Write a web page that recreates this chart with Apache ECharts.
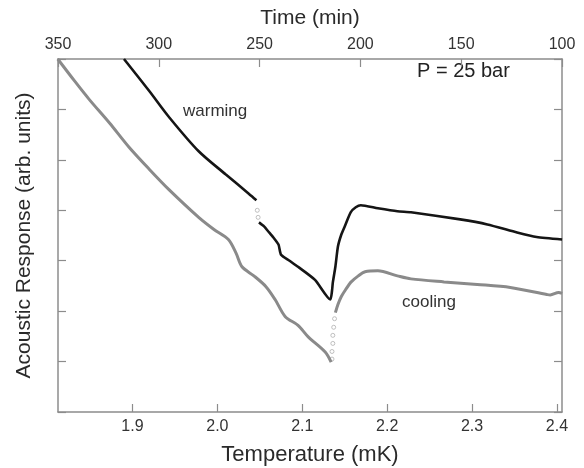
<!DOCTYPE html>
<html>
<head>
<meta charset="utf-8">
<script src="https://cdn.jsdelivr.net/npm/echarts@6/dist/echarts.min.js"></script>
<style>html,body{margin:0;padding:0;background:#fff}#c{width:584px;height:468px}</style>
</head>
<body>
<div id="c"></div>
<script>
// Temperature axis ticks (mK)
const tempTicks = [1.9, 2.0, 2.1, 2.2, 2.3, 2.4];
// Time axis ticks (min)
const timeTicks = [350, 300, 250, 200, 150, 100];

// Cooling curve (grey), before transition
const coolT1 = [1.812,1.832,1.849,1.873,1.896,1.920,1.943,1.978,1.996,2.013,2.022,2.029,2.043,2.057,2.068,2.080,2.095,2.107,2.127,2.134];
const coolV1 = [7.00,6.56,6.20,5.73,5.25,4.81,4.41,3.86,3.62,3.42,3.15,2.88,2.70,2.49,2.23,1.89,1.72,1.49,1.19,0.99];
// Cooling sparse points at transition
const coolDotT = [2.135,2.135,2.136,2.136,2.137,2.138];
const coolDotV = [1.05,1.20,1.36,1.52,1.68,1.85];
// Cooling curve after transition
const coolT2 = [2.139,2.142,2.146,2.152,2.157,2.166,2.174,2.189,2.212,2.228,2.267,2.306,2.345,2.388,2.392,2.402,2.406];
const coolV2 = [1.97,2.13,2.29,2.45,2.57,2.70,2.78,2.80,2.70,2.64,2.58,2.53,2.47,2.33,2.32,2.37,2.35];

// Warming curve (black)
const warmT1 = [1.890,1.920,1.943,1.978,2.010,2.037,2.046];
const warmV1 = [7.00,6.36,5.85,5.17,4.71,4.33,4.20];
const warmDotT = [2.047,2.048];
const warmDotV = [4.00,3.86];
const warmT2 = [2.049,2.055,2.060,2.066,2.072,2.075,2.085,2.095,2.115,2.133,2.135,2.136,2.139,2.142,2.146,2.150,2.157,2.163,2.169,2.189,2.212,2.228,2.286,2.318,2.353,2.376,2.406];
const warmV2 = [3.76,3.68,3.58,3.46,3.32,3.12,3.00,2.88,2.62,2.23,2.40,2.57,2.88,3.28,3.52,3.68,3.96,4.06,4.10,4.04,3.98,3.96,3.82,3.72,3.56,3.47,3.42];

const zip = (a, b) => a.map((v, i) => [v, b[i]]);

const axisColor = '#8c8c8c';
const textColor = '#2a2a2a';
const font = 'Liberation Sans, Arial, sans-serif';

const lineBase = {type: 'line', xAxisIndex: 0, yAxisIndex: 0, showSymbol: false, smooth: 0.3, clip: true};

const chart = echarts.init(document.getElementById('c'), null, {renderer: 'canvas'});
chart.setOption({
  animation: false,
  backgroundColor: '#fff',
  grid: {left: 58, right: 22, top: 59, bottom: 56, containLabel: false, outerBoundsMode: 'none'},
  xAxis: [
    {
      type: 'value', position: 'bottom', min: 1.8123, max: 2.4059,
      name: 'Temperature (mK)', nameLocation: 'middle', nameGap: 32,
      nameTextStyle: {fontSize: 22, color: textColor, fontFamily: font},
      axisLine: {show: true, onZero: false, lineStyle: {color: axisColor, width: 1.5}},
      axisTick: {show: true, inside: true, length: 8, customValues: tempTicks, lineStyle: {color: axisColor, width: 1.2}},
      axisLabel: {customValues: tempTicks, fontSize: 16, color: '#333', fontFamily: font, margin: 7,
        formatter: v => v.toFixed(1)},
      splitLine: {show: false}
    },
    {
      type: 'value', position: 'top', min: 100, max: 350, interval: 50, inverse: true,
      name: 'Time (min)', nameLocation: 'middle', nameGap: 30,
      nameTextStyle: {fontSize: 21, color: textColor, fontFamily: font},
      axisLine: {show: true, onZero: false, lineStyle: {color: axisColor, width: 1.5}},
      axisTick: {show: true, inside: true, length: 8, lineStyle: {color: axisColor, width: 1.2}},
      axisLabel: {fontSize: 16, color: '#333', fontFamily: font, margin: 6},
      splitLine: {show: false}
    }
  ],
  yAxis: [
    {
      type: 'value', position: 'left', min: 0, max: 7, interval: 1,
      name: 'Acoustic Response (arb. units)', nameLocation: 'middle', nameGap: 23,
      nameTextStyle: {fontSize: 21, color: textColor, fontFamily: font},
      axisLine: {show: true, onZero: false, lineStyle: {color: axisColor, width: 1.5}},
      axisTick: {show: true, inside: true, length: 8, lineStyle: {color: axisColor, width: 1.2}},
      axisLabel: {show: false},
      splitLine: {show: false}
    },
    {
      type: 'value', position: 'right', min: 0, max: 7, interval: 1,
      axisLine: {show: true, onZero: false, lineStyle: {color: axisColor, width: 1.5}},
      axisTick: {show: true, inside: true, length: 8, lineStyle: {color: axisColor, width: 1.2}},
      axisLabel: {show: false},
      splitLine: {show: false}
    }
  ],
  series: [
    Object.assign({}, lineBase, {data: zip(coolT1, coolV1), lineStyle: {color: '#8a8a8a', width: 3}}),
    {type: 'scatter', xAxisIndex: 0, yAxisIndex: 0, data: zip(coolDotT, coolDotV), symbolSize: 4,
      itemStyle: {color: '#fff', borderColor: '#b0b0b0', borderWidth: 1}},
    Object.assign({}, lineBase, {data: zip(coolT2, coolV2), lineStyle: {color: '#8a8a8a', width: 3}}),
    Object.assign({}, lineBase, {data: zip(warmT1, warmV1), lineStyle: {color: '#151515', width: 2.6}}),
    {type: 'scatter', xAxisIndex: 0, yAxisIndex: 0, data: zip(warmDotT, warmDotV), symbolSize: 4,
      itemStyle: {color: '#fff', borderColor: '#b0b0b0', borderWidth: 1}},
    Object.assign({}, lineBase, {data: zip(warmT2, warmV2), smooth: 0.2, lineStyle: {color: '#151515', width: 2.6}})
  ],
  graphic: [
    {type: 'text', left: 183, top: 103, style: {text: 'warming', fill: '#333', font: '17px Liberation Sans, Arial, sans-serif'}},
    {type: 'text', left: 402, top: 294, style: {text: 'cooling', fill: '#333', font: '17px Liberation Sans, Arial, sans-serif'}},
    {type: 'text', left: 417, top: 61, style: {text: 'P = 25 bar', fill: '#222', font: '20px Liberation Sans, Arial, sans-serif'}}
  ]
});
</script>
</body>
</html>
